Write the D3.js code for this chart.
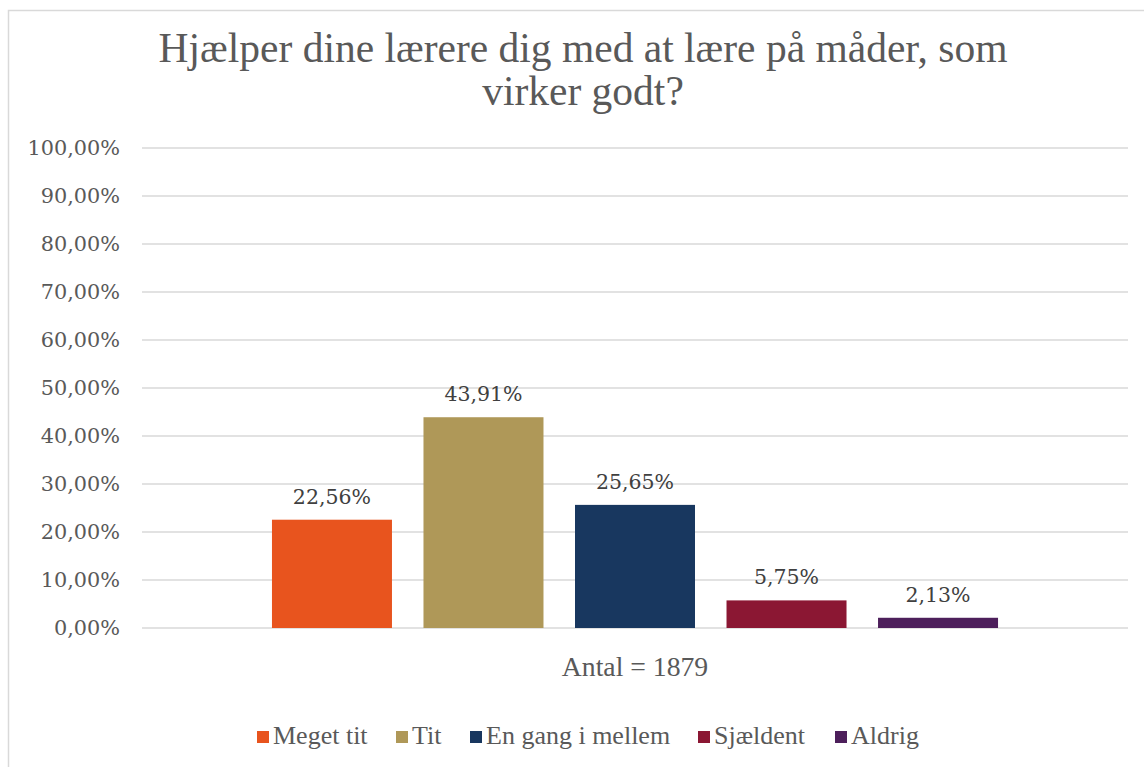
<!DOCTYPE html>
<html lang="da">
<head>
  <meta charset="UTF-8">
  <title>Hjælper dine lærere dig med at lære på måder, som virker godt?</title>
  <style>
    html, body {
      margin: 0;
      padding: 0;
      overflow: hidden;
      background: #fff;
    }
    svg {
      display: block;
    }
    .serif { font-family: "Liberation Serif", "Times New Roman", "DejaVu Serif", serif; }
    .serif-wide { font-family: "DejaVu Serif", "Liberation Serif", serif; }
  </style>
</head>
<body>
<svg width="1144" height="767"></svg>
<script src="https://d3js.org/d3.v7.min.js"></script>
<script>
// data
const titleLines = ["Hjælper dine lærere dig med at lære på måder, som", "virker godt?"];
const category = "Antal = 1879";
const series = ["Meget tit", "Tit", "En gang i mellem", "Sjældent", "Aldrig"];
const values = [0.2256, 0.4391, 0.2565, 0.0575, 0.0213];
const colors = ["#E8541E", "#AF9858", "#18375F", "#8B1733", "#4D1F5B"];
const yTicks = [0, 0.1, 0.2, 0.3, 0.4, 0.5, 0.6, 0.7, 0.8, 0.9, 1];

const svg = d3.select("svg");

const da = d3.formatLocale({decimal: ",", thousands: ".", grouping: [3], currency: ["", " kr"]});
const pct = da.format(".2%");

const plot = {left: 142, right: 1128, top: 148, bottom: 628};

// chart frame (runs off the right/bottom edge like the original)
svg.append("rect")
  .attr("x", 8.5).attr("y", 10.5)
  .attr("width", 1150).attr("height", 800)
  .attr("fill", "none")
  .attr("stroke", "#d9d9d9")
  .attr("stroke-width", 1.5);

// title
svg.append("text")
  .attr("class", "serif")
  .attr("x", 583).attr("y", 62)
  .attr("text-anchor", "middle")
  .style("font-size", "41.5px")
  .attr("fill", "#595959")
  .selectAll("tspan")
  .data(titleLines)
  .enter().append("tspan")
  .attr("x", 583)
  .attr("dy", (d, i) => i === 0 ? 0 : 43)
  .text(d => d);

const y = d3.scaleLinear().domain([0, 1]).range([plot.bottom, plot.top]);

const x0 = d3.scaleBand().domain([category])
  .range([plot.left, plot.right])
  .paddingInner(0).paddingOuter(0.179);

const x1 = d3.scaleBand().domain(series)
  .range([0, x0.bandwidth()])
  .paddingInner(0.208).paddingOuter(0);

// gridlines
svg.append("g")
  .selectAll("line")
  .data(yTicks)
  .enter().append("line")
  .attr("x1", plot.left).attr("x2", plot.right)
  .attr("y1", d => y(d)).attr("y2", d => y(d))
  .attr("stroke", "#d9d9d9")
  .attr("stroke-width", 1.3);

// y tick labels
svg.append("g")
  .selectAll("text")
  .data(yTicks)
  .enter().append("text")
  .attr("class", "serif-wide")
  .attr("x", 120)
  .attr("y", d => y(d))
  .attr("dy", "0.36em")
  .attr("text-anchor", "end")
  .style("font-size", "20.8px")
  .attr("fill", "#595959")
  .text(d => pct(d));

const rows = series.map((s, i) => ({name: s, value: values[i], color: colors[i]}));

const g = svg.append("g").attr("transform", `translate(${x0(category)},0)`);

g.selectAll("rect")
  .data(rows)
  .enter().append("rect")
  .attr("x", d => x1(d.name))
  .attr("y", d => y(d.value))
  .attr("width", x1.bandwidth())
  .attr("height", d => y(0) - y(d.value))
  .attr("fill", d => d.color);

g.selectAll("text.val")
  .data(rows)
  .enter().append("text")
  .attr("class", "val serif-wide")
  .attr("x", d => x1(d.name) + x1.bandwidth() / 2)
  .attr("y", d => y(d.value) - 16)
  .attr("text-anchor", "middle")
  .style("font-size", "20.5px")
  .attr("fill", "#404040")
  .text(d => pct(d.value));

// category label
svg.append("text")
  .attr("class", "serif")
  .attr("x", x0(category) + x0.bandwidth() / 2)
  .attr("y", 676)
  .attr("text-anchor", "middle")
  .style("font-size", "27.7px")
  .attr("fill", "#595959")
  .text(category);

// legend
const legendX = [257, 396, 470, 698, 835];
const legend = svg.append("g");
const item = legend.selectAll("g")
  .data(rows)
  .enter().append("g")
  .attr("transform", (d, i) => `translate(${legendX[i]},731)`);

item.append("rect")
  .attr("width", 12).attr("height", 12)
  .attr("fill", d => d.color);

item.append("text")
  .attr("class", "serif")
  .attr("x", 16).attr("y", 13)
  .style("font-size", "26px")
  .attr("fill", "#595959")
  .text(d => d.name);
</script>
</body>
</html>
